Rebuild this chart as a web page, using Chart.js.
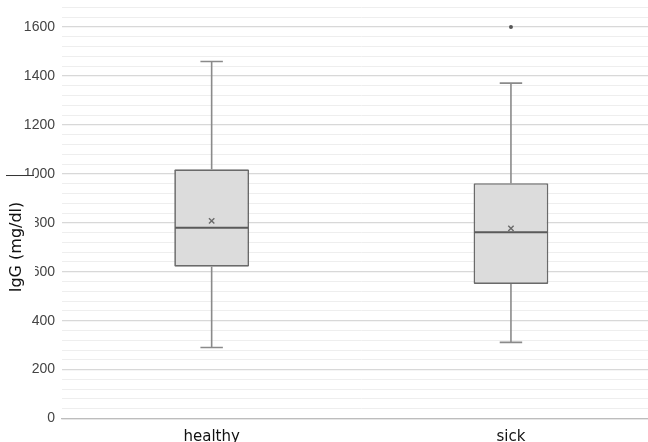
<!DOCTYPE html>
<html>
<head>
<meta charset="utf-8">
<script src="https://cdn.jsdelivr.net/npm/chart.js@4/dist/chart.umd.min.js"></script>
<style>
  html, body { margin: 0; padding: 0; background: #fff; overflow: hidden; }
  #wrap { position: relative; width: 666px; height: 442px; }
</style>
</head>
<body>
<div id="wrap"><canvas id="c"></canvas></div>
<script>
// Box-plot summary per group (IgG, mg/dl)
const categories = ['healthy', 'sick'];
const whiskerLow = [290, 311];
const q1 = [620, 550];
const median = [780, 761];
const q3 = [1019, 962];
const whiskerHigh = [1459, 1371];
const means = [808, 777];
const outliers = [null, 1600];
const yTickLabels = [0, 200, 400, 600, 800, 1000, 1200, 1400, 1600];
const yAxisTitle = 'IgG (mg/dl)';

// whiskers, caps and median lines, placed with the chart's own scales
const boxExtras = {
  id: 'boxExtras',
  beforeDatasetsDraw(chart) {
    const { ctx, scales: { x, y } } = chart;
    const meta = chart.getDatasetMeta(0);
    ctx.save();
    ctx.strokeStyle = '#8a8a8a';
    ctx.lineWidth = 1.6;
    categories.forEach((c, i) => {
      const cx = x.getPixelForValue(i);
      const half = meta.data[i].width * 0.15;
      const pairs = [[whiskerHigh[i], q3[i]], [whiskerLow[i], q1[i]]];
      pairs.forEach(([end, edge]) => {
        const yEnd = y.getPixelForValue(end);
        ctx.beginPath();
        ctx.moveTo(cx, yEnd);
        ctx.lineTo(cx, y.getPixelForValue(edge));
        ctx.moveTo(cx - half, yEnd);
        ctx.lineTo(cx + half, yEnd);
        ctx.stroke();
      });
    });
    ctx.restore();
  },
  afterDatasetDraw(chart, args) {
    if (args.index !== 0) return;
    const { ctx, scales: { y } } = chart;
    const meta = chart.getDatasetMeta(0);
    ctx.save();
    ctx.strokeStyle = '#5a5a5a';
    ctx.lineWidth = 2;
    meta.data.forEach((bar, i) => {
      const my = y.getPixelForValue(median[i]);
      ctx.beginPath();
      ctx.moveTo(bar.x - bar.width / 2 + 1, my);
      ctx.lineTo(bar.x + bar.width / 2 - 1, my);
      ctx.stroke();
    });
    ctx.restore();
  }
};

// rotated y-axis title on a white plate
const yTitle = {
  id: 'yTitle',
  afterDraw(chart) {
    const { ctx, scales: { y } } = chart;
    const cy = (y.getPixelForValue(1000) + y.getPixelForValue(500)) / 2;
    ctx.save();
    ctx.fillStyle = '#fff';
    ctx.fillRect(0, cy - 60, 35, 124);
    ctx.strokeStyle = '#333';
    ctx.lineWidth = 1;
    ctx.beginPath();
    ctx.moveTo(6, cy - 59.5);
    ctx.lineTo(34, cy - 59.5);
    ctx.stroke();
    ctx.translate(17, cy + 12);
    ctx.rotate(-Math.PI / 2);
    ctx.fillStyle = '#111';
    ctx.font = '16px "DejaVu Sans", sans-serif';
    ctx.textAlign = 'center';
    ctx.textBaseline = 'middle';
    ctx.fillText(yAxisTitle, 0, 0);
    ctx.restore();
  }
};

new Chart(document.getElementById('c'), {
  type: 'bar',
  data: {
    labels: categories,
    datasets: [
      {
        label: 'box',
        data: categories.map((c, i) => [q1[i], q3[i]]),
        backgroundColor: '#dcdcdc',
        borderColor: '#6a6a6a',
        borderWidth: 1.7,
        borderRadius: 1,
        borderSkipped: false,
        categoryPercentage: 1,
        barPercentage: 0.25,
        order: 2
      },
      {
        type: 'line',
        label: 'mean',
        data: means,
        showLine: false,
        pointStyle: 'crossRot',
        pointRadius: 3.8,
        pointBorderColor: '#6a6a6a',
        pointBorderWidth: 1.4,
        order: 0
      },
      {
        type: 'line',
        label: 'outlier',
        data: outliers,
        showLine: false,
        pointStyle: 'circle',
        pointRadius: 2,
        pointBackgroundColor: '#555',
        pointBorderColor: '#555',
        pointBorderWidth: 0,
        order: 0
      }
    ]
  },
  options: {
    responsive: true,
    maintainAspectRatio: false,
    animation: false,
    layout: { padding: { top: 7.5, right: 0, bottom: 0, left: 0 } },
    plugins: { legend: { display: false }, tooltip: { enabled: false } },
    scales: {
      x: {
        grid: { display: false },
        border: { display: true, color: '#bdbdbd', width: 1.2 },
        ticks: {
          color: '#111',
          padding: 2,
          font: { family: '"DejaVu Sans", sans-serif', size: 15 }
        },
        afterFit(scale) { scale.height = 23.5; }
      },
      y: {
        min: 0,
        max: 1680,
        grid: {
          drawTicks: false,
          color: ctx => (yTickLabels.includes(ctx.tick.value) ? '#d8d8d8' : '#eeeeee'),
          lineWidth: ctx => (yTickLabels.includes(ctx.tick.value) ? 1.3 : 1)
        },
        border: { display: false },
        ticks: {
          stepSize: 40,
          autoSkip: false,
          padding: 7,
          color: '#444',
          font: { family: '"Liberation Sans", Arial, sans-serif', size: 14 },
          callback: v => (yTickLabels.includes(v) ? String(v) : '')
        },
        afterFit(scale) {
          scale.width = 62;
          scale.paddingTop = 0;
          scale.paddingBottom = 0;
        }
      }
    }
  },
  plugins: [boxExtras, yTitle]
});
</script>
</body>
</html>
